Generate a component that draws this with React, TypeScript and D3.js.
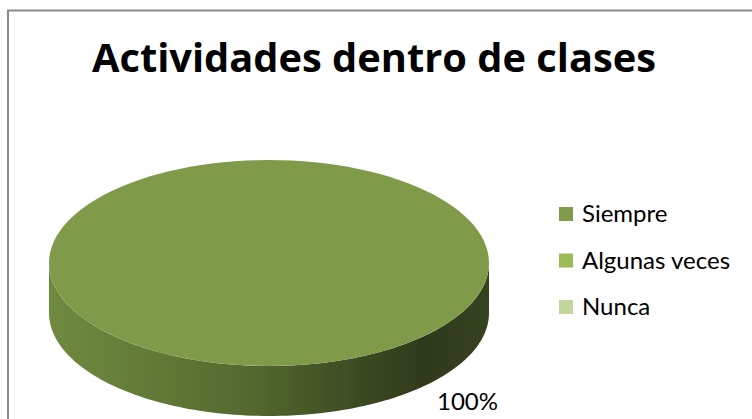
import { useEffect, useRef } from 'react';
import * as d3 from 'd3';

const categories = ['Siempre', 'Algunas veces', 'Nunca'];
const values = [100, 0, 0];
const colors = ['#7f9b49', '#9bbb59', '#c3d69b'];
const title = 'Actividades dentro de clases';

const W = 752;
const H = 419;
const FONT = 'Lato, Open Sans, sans-serif';

const App = () => {
  const svgRef = useRef<SVGSVGElement>(null);

  useEffect(() => {
    const svg = d3.select(svgRef.current);
    svg.selectAll('*').remove();

    // chart frame (runs off the right and bottom edges)
    svg.append('rect')
      .attr('x', 8).attr('y', 10.5)
      .attr('width', 800).attr('height', 450)
      .attr('fill', '#fff').attr('stroke', '#8a8a8a').attr('stroke-width', 2);

    svg.append('text')
      .attr('x', 374).attr('y', 72)
      .attr('text-anchor', 'middle')
      .attr('font-family', 'Open Sans, sans-serif')
      .attr('font-weight', 'bold')
      .attr('font-size', 39)
      .attr('textLength', 564)
      .attr('lengthAdjust', 'spacingAndGlyphs')
      .text(title);

    const cx = 269, cy = 263, rx = 220, ry = 103, depth = 50;
    const total = d3.sum(values);
    const pct = d3.format('.0%');

    const pie = d3.pie<number>().sort(null).value(d => d);
    const slices = pie(values);

    const pt = (a: number, dy = 0): [number, number] => {
      const t = a - Math.PI / 2;
      return [cx + rx * Math.cos(t), cy + ry * Math.sin(t) + dy];
    };

    const defs = svg.append('defs');
    const grad = defs.append('linearGradient')
      .attr('id', 'side').attr('x1', '0%').attr('x2', '100%').attr('y1', '0%').attr('y2', '0%');
    grad.append('stop').attr('offset', '0%').attr('stop-color', '#6f8b3f');
    grad.append('stop').attr('offset', '45%').attr('stop-color', '#55692f');
    grad.append('stop').attr('offset', '85%').attr('stop-color', '#2f3a1b');
    grad.append('stop').attr('offset', '100%').attr('stop-color', '#36421f');

    const g = svg.append('g');
    const N = 120;

    // side walls: only the front half (pie angles between pi/2 and 3pi/2)
    slices.forEach((s) => {
      if (s.endAngle - s.startAngle <= 0) return;
      const a0 = Math.max(s.startAngle, Math.PI / 2);
      const a1 = Math.min(s.endAngle, 3 * Math.PI / 2);
      if (a1 <= a0) return;
      const top = d3.range(N + 1).map(i => pt(a0 + (a1 - a0) * i / N));
      const bot = d3.range(N + 1).map(i => pt(a1 - (a1 - a0) * i / N, depth));
      g.append('path')
        .attr('d', d3.line()([...top, ...bot]) + 'Z')
        .attr('fill', 'url(#side)');
    });

    // top faces
    slices.forEach((s, i) => {
      if (s.endAngle - s.startAngle <= 0) return;
      const pts = d3.range(N + 1).map(k => pt(s.startAngle + (s.endAngle - s.startAngle) * k / N));
      const full = s.endAngle - s.startAngle >= 2 * Math.PI - 1e-6;
      const d = full ? d3.line()(pts) + 'Z' : d3.line()([[cx, cy], ...pts]) + 'Z';
      g.append('path').attr('d', d).attr('fill', colors[i]);
    });

    // data labels
    slices.forEach((s) => {
      if (s.value <= 0) return;
      g.append('text')
        .attr('x', 437).attr('y', 410)
        .attr('font-family', FONT)
        .attr('font-size', 24)
        .attr('fill', '#000')
        .text(pct(s.value / total));
    });

    // legend
    const ly = d3.scalePoint<string>().domain(categories).range([214, 307]);
    const leg = svg.append('g');
    categories.forEach((c, i) => {
      leg.append('rect')
        .attr('x', 559).attr('y', ly(c)! - 7)
        .attr('width', 14).attr('height', 14)
        .attr('fill', colors[i]);
      leg.append('text')
        .attr('x', 582).attr('y', ly(c)! + 8)
        .attr('font-family', FONT)
        .attr('font-size', 24)
        .attr('fill', '#000')
        .text(c);
    });
  }, []);

  return (
    <svg ref={svgRef} width={W} height={H}
      style={{ position: 'absolute', left: 0, top: 0, background: '#fff' }} />
  );
};

export default App;
